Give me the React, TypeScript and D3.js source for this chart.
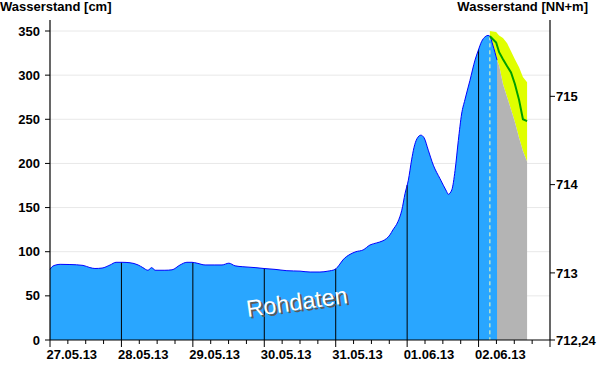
import React from 'react';
import * as d3 from 'd3';

const START = new Date(2013, 4, 27, 0, 0);
const hoursToDate = (h: number) => new Date(START.getTime() + h * 3600e3);

// Measured water level (hours since 27.05.13 00:00, cm)
const measuredHours = [0, 0.7, 2.0, 3.4, 6.7, 11.1, 13.4, 15.1, 17.5, 20.2, 22.2, 24.2, 26.9, 29.6, 31.2, 32.9, 34.2, 35.3, 38.6, 41.0, 43.7, 46.0, 47.7, 49.4, 52.1, 55.4, 57.8, 60.1, 62.2, 64.8, 68.9, 71.9, 75.6, 79.6, 84.0, 87.4, 90.7, 93.4, 95.8, 97.4, 98.4, 100.8, 102.8, 105.2, 107.5, 109.8, 111.6, 113.1, 114.2, 115.2, 116.9, 118.2, 119.3, 120.4, 121.5, 122.3, 123.3, 124.6, 125.7, 127.1, 128.8, 131.0, 133.3, 133.8, 135.0, 136.1, 137.2, 138.3, 139.4, 141.1, 142.8, 143.9, 145.0, 146.2, 147.2, 147.8, 148.8, 150.2];
const measuredCm = [80, 83, 85, 85.7, 85.5, 84.5, 82, 81, 81.5, 85, 88, 88, 87.5, 85, 82, 79, 82, 79, 79, 79.5, 85, 88, 88, 87, 85, 85, 85, 87, 84, 83, 82, 81, 80, 78.5, 78, 77, 77, 78, 80, 86, 90.6, 97, 100, 102, 107.6, 110, 112, 115, 119, 124.6, 134, 147, 166, 181, 204, 218, 228, 232, 229, 215, 198, 183, 168, 165, 170, 192, 226, 256, 272, 294, 317, 328, 338, 343.5, 345, 344, 334, 317];

// Forecast (hours since 27.05.13 00:00, cm)
const forecastHours = [147.8, 149.9, 150.9, 152.2, 153.6, 154.9, 156.2, 157.6, 158.9, 160.3];
const forecastUpper = [350, 349, 345, 342, 336, 327, 318, 309, 298, 292];
const forecastMedian = [344, 337, 326, 318, 310, 303, 290, 272, 250, 248];
const forecastLower = [342, 320, 311, 290, 275, 261, 247, 229, 214, 202];

const dayLabels = ['27.05.13', '28.05.13', '29.05.13', '30.05.13', '31.05.13', '01.06.13', '02.06.13'];
const leftTicks = [0, 50, 100, 150, 200, 250, 300, 350];
const gridValues = [50, 100, 150, 200, 250, 300, 350];
const rightTicks = [712.24, 713, 714, 715];
const rightTickLabels = ['712,24', '713', '714', '715'];
const gaugeZero = 712.24;

const FONT = 'Liberation Sans, Arial, Helvetica, sans-serif';

export default function App() {
  const W = 600, H = 384;
  const L = 50, R = 550, B = 340, T = 20;
  const x = d3.scaleTime().domain([START, hoursToDate(168)]).range([L, R]);
  const y = d3.scaleLinear().domain([0, 350]).range([B, 31]);
  const yR = d3.scaleLinear().domain([gaugeZero, gaugeZero + 3.5]).range([B, 31]);

  const measured = measuredHours.map((h, i) => ({ t: hoursToDate(h), v: measuredCm[i] }));
  const forecast = forecastHours.map((h, i) => ({ t: hoursToDate(h), u: forecastUpper[i], m: forecastMedian[i], l: forecastLower[i] }));
  const valueAt = d3.scaleLinear().domain(measuredHours).range(measuredCm).clamp(true);

  const areaM = d3.area<any>().x(d => x(d.t)).y0(y(0)).y1(d => y(d.v)).curve(d3.curveMonotoneX);
  const lineM = d3.line<any>().x(d => x(d.t)).y(d => y(d.v)).curve(d3.curveMonotoneX);
  const band = d3.area<any>().x(d => x(d.t)).y0(d => y(d.l)).y1(d => y(d.u)).curve(d3.curveLinear);
  const lowArea = d3.area<any>().x(d => x(d.t)).y0(y(0)).y1(d => y(d.l)).curve(d3.curveLinear);
  const medLine = d3.line<any>().x(d => x(d.t)).y(d => y(d.m)).curve(d3.curveLinear);

  const end = hoursToDate(168);
  const days = d3.timeDay.range(START, end);
  const sixHours = d3.timeHour.every(6)!.range(START, hoursToDate(168.01));
  const lastMeasured = measured[measured.length - 1].t;
  const forecastStart = forecast[0].t;
  const forecastEnd = forecast[forecast.length - 1].t;

  return (
    <svg width={W} height={H} style={{ position: 'absolute', left: 0, top: 0, background: '#fff' }} fontFamily={FONT}>
      <defs>
        <clipPath id="grayClip">
          <rect x={x(lastMeasured)} y={0} width={x(forecastEnd) - x(lastMeasured) + 1} height={B} />
        </clipPath>
      </defs>
      {gridValues.map(v => (
        <line key={v} x1={L} x2={R} y1={y(v)} y2={y(v)} stroke="#e8e8e8" strokeWidth={1} />
      ))}
      <path d={band(forecast)!} fill="#e0ff00" />
      <path d={lowArea(forecast)!} fill="#b4b4b4" clipPath="url(#grayClip)" />
      <path d={areaM(measured)!} fill="#29a6ff" />
      {days.slice(1).map((d, i) => (
        <line key={i} x1={x(d)} x2={x(d)} y1={y(valueAt((d.getTime() - START.getTime()) / 3600e3))} y2={B} stroke="#000" strokeWidth={1} />
      ))}
      <line x1={x(forecastStart)} x2={x(forecastStart)} y1={y(forecastMedian[0])} y2={B} stroke="#ffffb0" strokeWidth={1} strokeDasharray="4,3" />
      <path d={lineM(measured)!} fill="none" stroke="#0000ff" strokeWidth={1} />
      <path d={medLine(forecast)!} fill="none" stroke="#00a000" strokeWidth={2} />
      <g transform={`translate(298,310) rotate(-8)`}>
        <text x={2} y={2} textAnchor="middle" fontSize={23.5} fill="#5a5a5a">Rohdaten</text>
        <text x={0} y={0} textAnchor="middle" fontSize={23.5} fill="#fff">Rohdaten</text>
      </g>
      <line x1={L} x2={L} y1={T} y2={B} stroke="#000" strokeWidth={1.2} />
      <line x1={R} x2={R} y1={T} y2={B} stroke="#000" strokeWidth={1.2} />
      <line x1={L} x2={R} y1={B} y2={B} stroke="#000" strokeWidth={1.2} />
      {leftTicks.map(v => (
        <g key={v}>
          <line x1={L - 5} x2={L} y1={y(v)} y2={y(v)} stroke="#000" />
          <text x={40} y={y(v) + 4.6} textAnchor="end" fontSize={13} fontWeight="bold">{v}</text>
        </g>
      ))}
      {rightTicks.map((v, i) => (
        <g key={v}>
          <line x1={R} x2={R + 5} y1={yR(v)} y2={yR(v)} stroke="#000" />
          <text x={556} y={yR(v) + 4.6} textAnchor="start" fontSize={13} fontWeight="bold">{rightTickLabels[i]}</text>
        </g>
      ))}
      {sixHours.map((d, i) => {
        const major = d.getHours() === 0;
        return <line key={i} x1={x(d)} x2={x(d)} y1={B} y2={B + (major ? 7 : 4)} stroke="#000" />;
      })}
      {days.map((d, i) => (
        <text key={i} x={x(d) - 3.5} y={359} textAnchor="start" fontSize={13} fontWeight="bold">{dayLabels[i]}</text>
      ))}
      <text x={0} y={11} fontSize={13} fontWeight="bold">Wasserstand [cm]</text>
      <text x={588} y={11} textAnchor="end" fontSize={13} fontWeight="bold">Wasserstand [NN+m]</text>
    </svg>
  );
}
